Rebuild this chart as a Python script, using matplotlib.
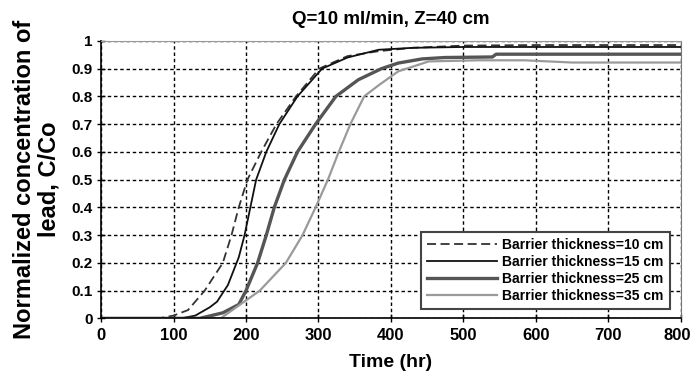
import matplotlib
matplotlib.use("Agg")
import matplotlib.pyplot as plt
import matplotlib.transforms as mtransforms

# Breakthrough curves
T_10 = [0, 80, 100, 120, 143, 168, 180, 190, 202, 221, 242, 269, 301, 340, 383, 430, 500, 600, 800]
C_10 = [0, 0, 0.01, 0.03, 0.1, 0.2, 0.3, 0.4, 0.5, 0.6, 0.7, 0.8, 0.9, 0.945, 0.963, 0.975, 0.983, 0.985, 0.985]

T_15 = [0, 110, 130, 150, 160, 175, 190, 198, 206, 214, 228, 246, 271, 305, 340, 383, 430, 500, 600, 800]
C_15 = [0, 0, 0.01, 0.04, 0.06, 0.12, 0.22, 0.3, 0.4, 0.5, 0.6, 0.7, 0.8, 0.9, 0.94, 0.968, 0.975, 0.978, 0.978, 0.978]

T_25 = [0, 136, 168, 190, 200, 216, 228, 239, 253, 271, 296, 324, 355, 387, 410, 443, 474, 540, 545, 800]
C_25 = [0, 0, 0.02, 0.05, 0.1, 0.2, 0.3, 0.4, 0.5, 0.6, 0.7, 0.8, 0.86, 0.9, 0.92, 0.935, 0.94, 0.942, 0.952, 0.952]

T_35 = [0, 165, 192, 219, 255, 278, 296, 313, 328, 344, 363, 383, 397, 410, 452, 520, 584, 650, 800]
C_35 = [0, 0, 0.05, 0.1, 0.2, 0.3, 0.4, 0.5, 0.6, 0.7, 0.8, 0.84, 0.866, 0.89, 0.926, 0.93, 0.93, 0.922, 0.922]

LABELS = ["Barrier thickness=10 cm", "Barrier thickness=15 cm",
          "Barrier thickness=25 cm", "Barrier thickness=35 cm"]
X_TICKS = list(range(0, 801, 100))
Y_TICKS = [0, 0.1, 0.2, 0.3, 0.4, 0.5, 0.6, 0.7, 0.8, 0.9, 1.0]
Y_TICK_LABELS = ["0", "0.1", "0.2", "0.3", "0.4", "0.5", "0.6", "0.7", "0.8", "0.9", "1"]

plt.rcParams["font.family"] = ["Liberation Sans", "DejaVu Sans"]
plt.rcParams["font.weight"] = "bold"

fig = plt.figure(figsize=(6.92, 3.75), dpi=100)
ax = fig.add_axes([0.146, 0.151, 0.838, 0.740])

ax.plot(T_10, C_10, color="#333333", lw=1.3, ls=(0, (5, 2.5)), label=LABELS[0])
ax.plot(T_15, C_15, color="#111111", lw=1.3, ls="-", label=LABELS[1])
ax.plot(T_25, C_25, color="#555555", lw=2.4, ls="-", label=LABELS[2])
ax.plot(T_35, C_35, color="#9a9a9a", lw=1.6, ls="-", label=LABELS[3])

ax.set_xlim(0, 800)
ax.set_ylim(0, 1)
ax.set_xticks(X_TICKS)
ax.set_yticks(Y_TICKS)
ax.set_yticklabels(Y_TICK_LABELS)
ax.grid(True, color="black", ls=(0, (2.5, 2)), lw=1.0)
ax.tick_params(direction="inout", length=6, width=1)
ax.tick_params(axis="x", labelsize=12, pad=4)
ax.tick_params(axis="y", labelsize=11, pad=3)
for lab in ax.get_xticklabels() + ax.get_yticklabels():
    lab.set_fontweight("bold")
# last x label sits against the right edge, nudge it in a little
last = ax.get_xticklabels()[-1]
last.set_transform(last.get_transform() +
                   mtransforms.ScaledTranslation(-3 / 72, 0, fig.dpi_scale_trans))

ax.spines["left"].set_linewidth(1.2)
ax.spines["bottom"].set_linewidth(1.2)
ax.spines["top"].set_color("#999999")
ax.spines["right"].set_color("#777777")

ax.set_title("Q=10 ml/min, Z=40 cm", fontsize=13.5, fontweight="bold", pad=12)
ax.set_xlabel("Time (hr)", fontsize=14, fontweight="bold", labelpad=8)
ax.set_ylabel("Normalized concentration of\nlead, C/Co", fontsize=17,
              fontweight="bold", labelpad=8, linespacing=1.1)

leg = ax.legend(loc="lower right", bbox_to_anchor=(0.981, 0.034), borderaxespad=0,
                frameon=True, fancybox=False, edgecolor="#444444", fontsize=10,
                borderpad=0.45, labelspacing=0.2, handlelength=5.0,
                handletextpad=0.4)
leg.get_frame().set_linewidth(1.5)
leg.get_frame().set_alpha(1)
for text in leg.get_texts():
    text.set_fontweight("bold")

fig.savefig("out.png", dpi=100)
